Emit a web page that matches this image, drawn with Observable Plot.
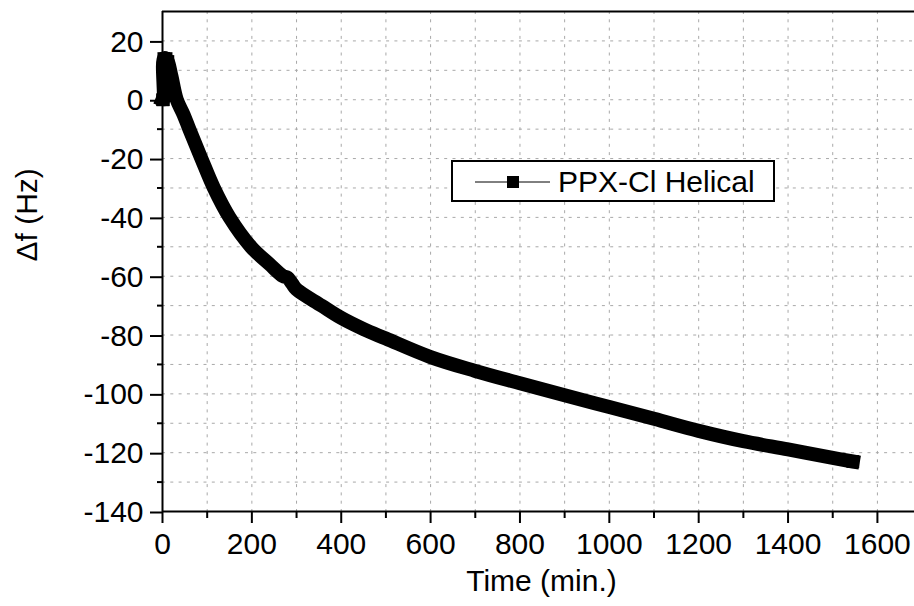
<!DOCTYPE html>
<html>
<head>
<meta charset="utf-8">
<script src="https://cdn.jsdelivr.net/npm/d3@7"></script>
<script src="https://cdn.jsdelivr.net/npm/@observablehq/plot@0.6"></script>
<style>
  html, body { margin: 0; padding: 0; background: white; }
  #wrap { position: relative; width: 914px; height: 606px; }
  #legend { position: absolute; left: 451px; top: 160px; }
</style>
</head>
<body>
<div id="wrap"></div>
<script>
// Data
const time = [0, 2, 3, 8, 12, 20, 32, 47, 60, 87, 115, 150, 198, 240, 270, 280, 290, 300, 356, 400, 450, 500, 600, 700, 800, 900, 1000, 1100, 1200, 1300, 1400, 1500, 1545];
const df   = [0, 0, 14, 14, 13, 8, 0, -5, -10, -20, -30, -40, -50, -56, -60, -60.5, -62.5, -64.5, -70, -74.2, -78, -81.2, -87.5, -92.2, -96.4, -100.5, -104.5, -108.5, -112.6, -116.1, -118.9, -121.8, -123];

const xTicks = [0, 200, 400, 600, 800, 1000, 1200, 1400, 1600];
const xMinor = [100, 300, 500, 700, 900, 1100, 1300, 1500];
const xGrid = [100, 200, 300, 400, 500, 600, 700, 800, 900, 1000, 1100, 1200, 1300, 1400, 1500, 1600];
const yTicks = [-140, -120, -100, -80, -60, -40, -20, 0, 20];
const yMinor = [-130, -110, -90, -70, -50, -30, -10, 10];
const yGrid = [-130, -120, -110, -100, -90, -80, -70, -60, -50, -40, -30, -20, -10, 0, 10, 20];

const seriesName = "PPX-Cl Helical";
const xLabel = "Time (min.)";
const yLabel = "\u0394f (Hz)";

const data = time.map((t, i) => ({t, f: df[i]}));
const lastT = time[time.length - 1];
const FONT = "'Liberation Sans', Arial, Helvetica, sans-serif";
const FS = 30;
const gridStyle = {stroke: "#a8a8a8", strokeOpacity: 1, strokeWidth: 1, strokeDasharray: "3,5.3"};

const chart = Plot.plot({
  width: 914,
  height: 606,
  marginLeft: 162,
  marginRight: 0,
  marginTop: 11,
  marginBottom: 95,
  x: {domain: [0, 1683]},
  y: {domain: [-140, 30]},
  style: {fontFamily: FONT, fontSize: FS + "px", color: "black", background: "white", overflow: "visible"},
  marks: [
    Plot.gridX(xGrid, gridStyle),
    Plot.gridY(yGrid, gridStyle),
    Plot.axisX(xTicks, {tickSize: 12, tickPadding: 9, strokeWidth: 2, fontSize: FS, label: null, tickFormat: d => String(d)}),
    Plot.axisX(xMinor, {tickSize: 7, strokeWidth: 2, text: null, label: null}),
    Plot.axisY(yTicks, {tickSize: 12, tickPadding: 7, strokeWidth: 2, fontSize: FS, label: null, dy: 1, tickFormat: d => String(d)}),
    Plot.axisY(yMinor, {tickSize: 5, strokeWidth: 2, text: null, label: null}),
    Plot.ruleX([0], {stroke: "black", strokeWidth: 2}),
    Plot.ruleY([-140], {stroke: "black", strokeWidth: 2}),
    Plot.ruleY([30], {stroke: "black", strokeWidth: 2}),
    Plot.line(data, {x: "t", y: "f", stroke: "black", strokeWidth: 14, strokeLinejoin: "round", strokeLinecap: "square", curve: "catmull-rom"}),
    Plot.dot(data, {filter: d => d.t <= 12 || d.t === lastT, x: "t", y: "f", symbol: "square", r: 7.2, fill: "black", stroke: "none"}),
    Plot.text([xLabel], {frameAnchor: "bottom", dy: 79, dx: 3, fontSize: FS, fill: "black"}),
    Plot.text([yLabel], {frameAnchor: "left", dx: -135, rotate: -90, fontSize: FS, fill: "black"})
  ]
});

const wrap = document.getElementById("wrap");
wrap.appendChild(chart);

// Legend (overlay inside plot area)
const ns = "http://www.w3.org/2000/svg";
const lg = document.createElementNS(ns, "svg");
lg.setAttribute("id", "legend");
lg.setAttribute("width", 326);
lg.setAttribute("height", 43);
lg.innerHTML = `
  <rect x="1" y="1" width="322" height="40" fill="white" stroke="black" stroke-width="2"></rect>
  <line x1="24" x2="99" y1="22" y2="22" stroke="black" stroke-width="1"></line>
  <rect x="56" y="16" width="12" height="12" fill="black"></rect>
  <text x="107" y="32" font-family="${FONT.replace(/'/g, "")}" font-size="${FS}" fill="black">${seriesName}</text>
`;
wrap.appendChild(lg);
</script>
</body>
</html>
